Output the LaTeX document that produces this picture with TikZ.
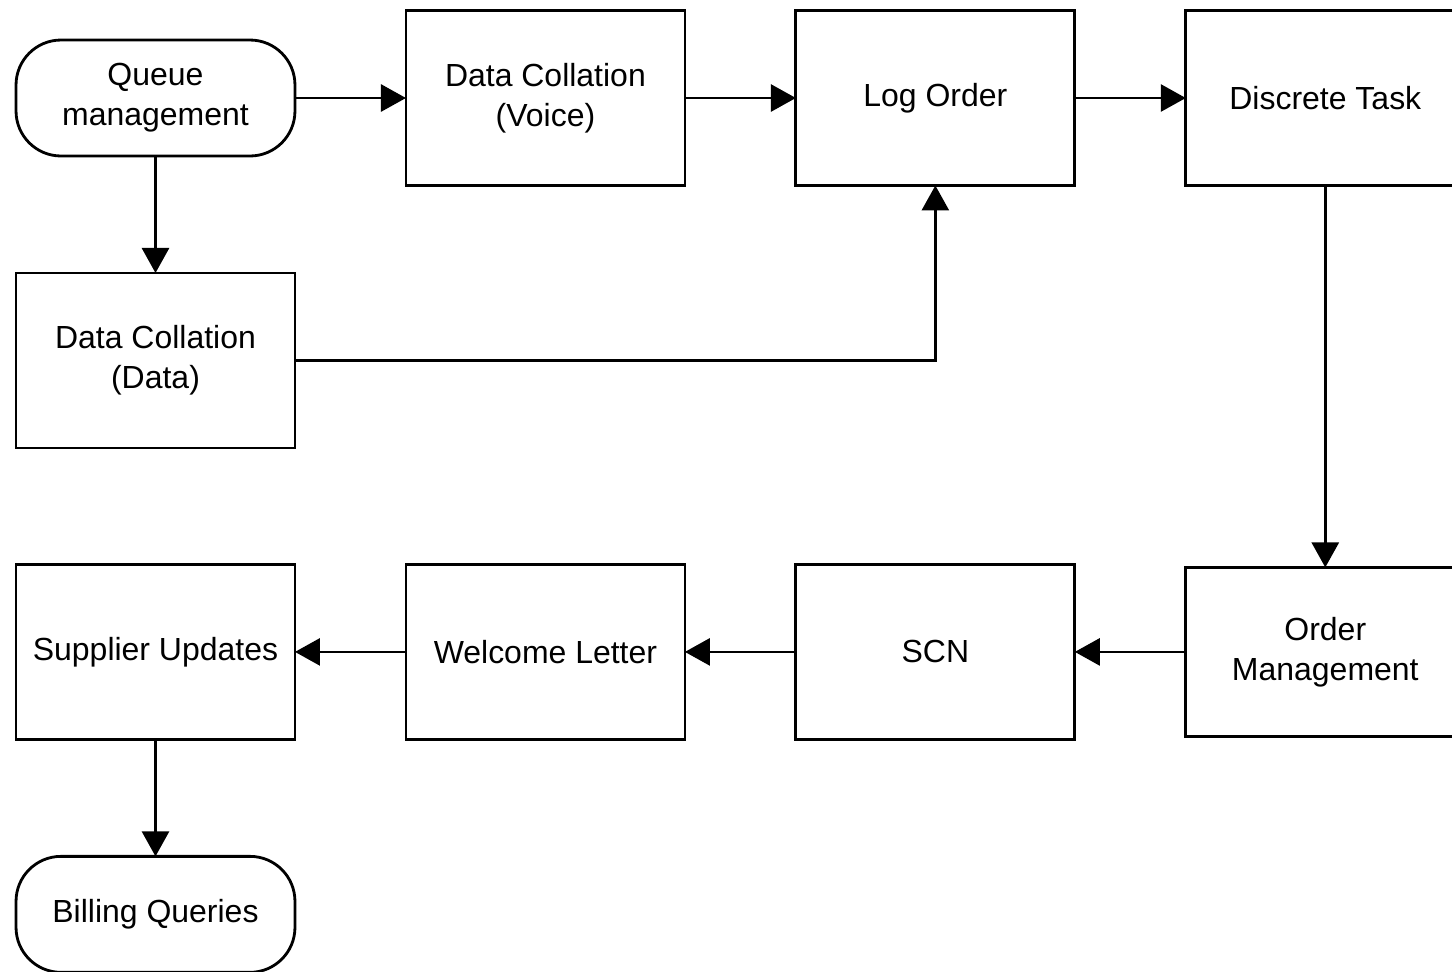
\documentclass[tikz,border=0pt]{standalone}
\usepackage{fontspec}
\setmainfont{Liberation Sans}
\usetikzlibrary{positioning,chains,arrows.meta}

\begin{document}
\begin{tikzpicture}[x=0.02cm, y=-0.02cm, line width=1.6pt,
    box/.style={rectangle, draw, minimum width=5.58cm, minimum height=3.5cm,
      align=center, inner sep=0pt, outer sep=0pt, font=\fontsize{18.2}{22.8}\selectfont},
    term/.style={rectangle, draw, rounded corners=0.9cm, minimum width=5.58cm,
      minimum height=2.32cm, align=center, inner sep=0pt, outer sep=0pt,
      font=\fontsize{18.2}{22.8}\selectfont},
    >={Triangle[length=0.5cm,width=0.54cm]}, node distance=2.22cm,
    start chain=upper going right]
    \clip (0,0) rectangle (1452,971);
    \node[term,on chain=upper] (queue) at (155.5,98) {Queue\\management};
    \node[box,on chain=upper] (voice) {Data Collation\\(Voice)};
    \node[box,on chain=upper] (log) {Log Order};
    \node[box,on chain=upper] (task) {Discrete Task};
    \node[box,below=2.34cm of queue] (datacol) {Data Collation\\(Data)};
    \begin{scope}[start chain=lower going left]
    \node[box,on chain=lower,below=7.64cm of task,minimum height=3.38cm] (order) {Order\\Management};
    \node[box,on chain=lower] (scn) {SCN};
    \node[box,on chain=lower] (welcome) {Welcome Letter};
    \node[box,on chain=lower] (supplier) {Supplier Updates};
    \end{scope}
    \node[term,below=2.34cm of supplier] (billing) {Billing Queries};
    \draw[->] (queue) -- (voice);
    \draw[->] (voice) -- (log);
    \draw[->] (log) -- (task);
    \draw[->] (queue) -- (datacol);
    \draw[->] (datacol) -| (log);
    \draw[->] (task) -- (order);
    \draw[->] (order) -- (scn);
    \draw[->] (scn) -- (welcome);
    \draw[->] (welcome) -- (supplier);
    \draw[->] (supplier) -- (billing);
\end{tikzpicture}
\end{document}
